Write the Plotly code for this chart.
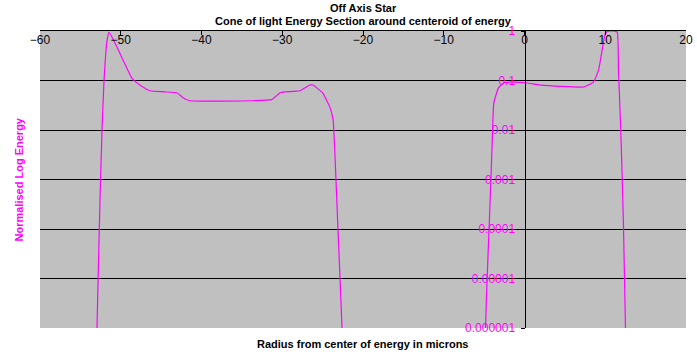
import plotly.graph_objects as go

radius = [-53.05, -52.94, -52.57, -52.32, -52.07, -51.7, -51.45, -50.59, -49.72, -48.6,
          -47.5, -46.4, -44.6, -43.0, -42.3, -41.4, -33.6, -31.3, -30.3, -29.7,
          -27.8, -26.6, -26.2, -25.0, -24.1, -23.7, -23.5, -23.1, -22.6, -22.5,
          -4.95, -4.83, -4.62, -4.30, -4.0, -3.80, -3.22, -2.60, -1.49, 0.33,
          1.98, 7.31, 8.55, 9.16, 9.41, 10.03, 10.5, 11.0, 11.48, 11.64,
          11.89, 12.1, 12.26, 12.5, 12.6]
energy = [1e-7, 1.05e-6, 3.9e-4, 1e-2, 0.1, 0.63, 0.95, 0.52, 0.26, 0.11,
          0.078, 0.062, 0.059, 0.056, 0.045, 0.039, 0.039, 0.041, 0.056, 0.059,
          0.062, 0.081, 0.081, 0.056, 0.029, 0.016, 0.004, 1e-4, 1e-6, 1e-7,
          1e-7, 1.05e-6, 1.07e-5, 2.4e-4, 5.5e-3, 0.035, 0.071, 0.089, 0.093, 0.089,
          0.081, 0.074, 0.093, 0.16, 0.26, 0.91, 1.0, 1.0, 0.95, 0.16,
          0.014, 1.1e-3, 1.1e-4, 1.05e-6, 1e-7]

x_ticks = [-60, -50, -40, -30, -20, -10, 0, 10, 20]
y_ticks = [1, 0.1, 0.01, 0.001, 0.0001, 0.00001, 0.000001]
y_labels = ["1", "0.1", "0.01", "0.001", "0.0001", "0.00001", "0.000001"]

title1 = "Off Axis Star"
title2 = "Cone of light Energy Section around centeroid of energy"
x_title = "Radius from center of energy in microns"
y_title = "Normalised Log Energy"

FONT = "Liberation Sans, Arial, sans-serif"
MAG = "#FF00FF"

fig = go.Figure()
fig.add_trace(go.Scatter(x=radius, y=energy, mode="lines",
                         line=dict(color=MAG, width=1.2, shape="spline", smoothing=0.4),
                         hoverinfo="skip", showlegend=False))

fig.update_layout(
    width=697, height=360,
    margin=dict(l=40, r=11, t=31, b=32, autoexpand=False),
    paper_bgcolor="white", plot_bgcolor="#C0C0C0",
    font=dict(family=FONT, size=12, color="black"),
    xaxis=dict(range=[-60, 20], side="top", tickvals=x_ticks,
               ticks="inside", ticklen=4, tickcolor="black",
               ticklabelposition="inside", ticklabeloverflow="allow",
               showgrid=False, zeroline=False, automargin=False,
               showline=True, linecolor="black", linewidth=1,
               tickfont=dict(size=12, color="black"), fixedrange=True),
    yaxis=dict(type="log", range=[-6, 0], tickvals=y_ticks, ticktext=y_labels,
               anchor="free", position=0.75, side="left", automargin=False,
               ticks="outside", ticklen=4, tickcolor="black", ticklabelstandoff=3,
               ticklabeloverflow="allow",
               showgrid=True, gridcolor="black", gridwidth=1,
               showline=True, linecolor="black", linewidth=1, zeroline=False,
               tickfont=dict(size=12, color=MAG), fixedrange=True),
    annotations=[
        dict(text="<b>" + title1 + "</b>", x=0.5, y=1, xref="paper", yref="paper",
             xanchor="center", yanchor="bottom", yshift=15, showarrow=False,
             font=dict(size=11, family=FONT)),
        dict(text="<b>" + title2 + "</b>", x=0.5, y=1, xref="paper", yref="paper",
             xanchor="center", yanchor="bottom", yshift=2, showarrow=False,
             font=dict(size=11, family=FONT)),
        dict(text="<b>" + x_title + "</b>", x=0.5, y=0, xref="paper", yref="paper",
             xanchor="center", yanchor="top", yshift=-8, showarrow=False,
             font=dict(size=11, family=FONT)),
        dict(text="<b>" + y_title + "</b>", x=0, y=0.5, xref="paper", yref="paper",
             xanchor="center", yanchor="middle", xshift=-22, textangle=-90,
             showarrow=False, font=dict(size=11, family=FONT, color=MAG)),
    ],
)

fig.write_html("out.html", config={"displayModeBar": False},
               post_script="document.body.style.margin='0';document.body.style.overflow='hidden';")
